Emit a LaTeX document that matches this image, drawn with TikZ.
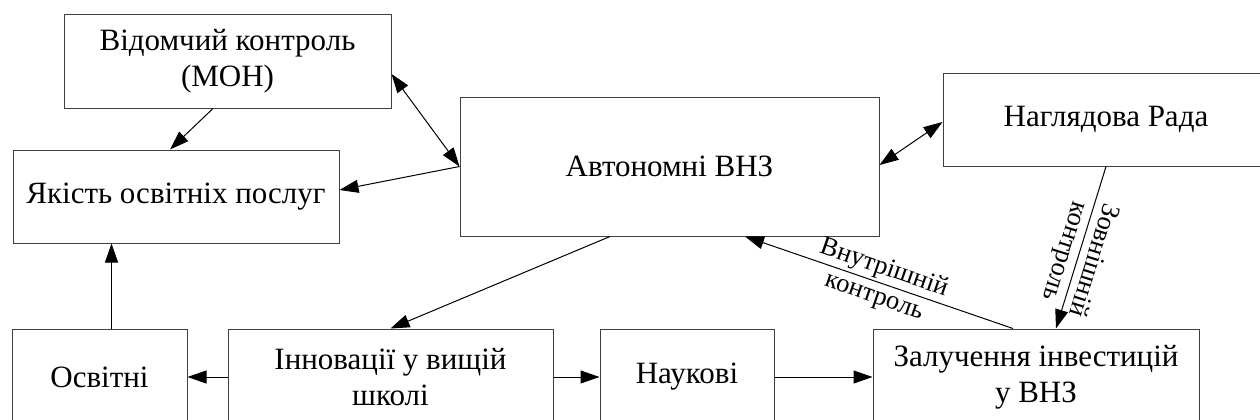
\documentclass[tikz,border=0pt]{standalone}
\usepackage{fontspec}
\setmainfont{Liberation Serif}
\usetikzlibrary{arrows.meta,calc}
\begin{document}
\begin{tikzpicture}[x=1pt,y=-1pt,
  box/.style={draw=black!75,line width=1pt,fill=white,inner sep=0pt,align=center,
    font=\fontsize{31}{36}\selectfont},
  arr/.style={draw=black,line width=1pt,-{Triangle[length=19pt,width=13pt]}},
  darr/.style={draw=black,line width=1pt,{Triangle[length=19pt,width=13pt]}-{Triangle[length=19pt,width=13pt]}},
  lbl/.style={align=center,inner sep=0pt,font=\fontsize{26.5}{30}\selectfont}]
\useasboundingbox (0,0) rectangle (1260,420);
\fill[white] (0,0) rectangle (1260,420);
\clip (0,0) rectangle (1260,420);
\node[box,minimum width=327pt,minimum height=93pt] (mon) at (227.5,61.5) {Відомчий контроль\\(МОН)};
\node[box,minimum width=326pt,minimum height=93pt] (yak) at (176,196.5) {Якість освітніх послуг};
\node[box,minimum width=419pt,minimum height=139pt] (avt) at (669.5,166.5) {Автономні ВНЗ};
\node[box,minimum width=326pt,minimum height=93pt] (nag) at (1106,119.5) {Наглядова Рада};
\node[box,minimum width=175pt,minimum height=96pt] (osv) at (99.5,377) {Освітні};
\node[box,minimum width=325pt,minimum height=96pt] (inn) at (390.5,377) {Інновації у вищій\\школі};
\node[box,minimum width=174pt,minimum height=96pt] (nauk) at (687,377) {Наукові};
\node[box,minimum width=326pt,minimum height=96pt] (zal) at (1036,377) {Залучення інвестицій\\у ВНЗ};
\draw[arr] ([xshift=-14.5pt]mon.south) -- ([xshift=-6pt]yak.north);
\draw[darr] ([yshift=-12.5pt]mon.east) -- (avt.west);
\draw[arr] (avt.west) -- ([yshift=6.5pt]yak.east);
\draw[darr] ([yshift=-2.5pt]nag.west) -- ([yshift=1.5pt]avt.east);
\draw[arr] (nag.south) -- node[lbl,pos=0.55,rotate=-107.4] {Зовнішній\\контроль} ([xshift=20pt]zal.north);
\draw[arr] ([xshift=-23pt]zal.north) -- node[lbl,midway,rotate=-19.1] {Внутрішній\\контроль} ([xshift=75.5pt]avt.south);
\draw[arr] ([xshift=-59.5pt]avt.south) -- (inn.north);
\draw[arr] (inn.west) -- (osv.east);
\draw[arr] ([xshift=12pt]osv.north) -- ([xshift=12pt]osv.north |- yak.south);
\draw[arr] (inn.east) -- (nauk.west);
\draw[arr] (nauk.east) -- (zal.west);
\end{tikzpicture}
\end{document}
